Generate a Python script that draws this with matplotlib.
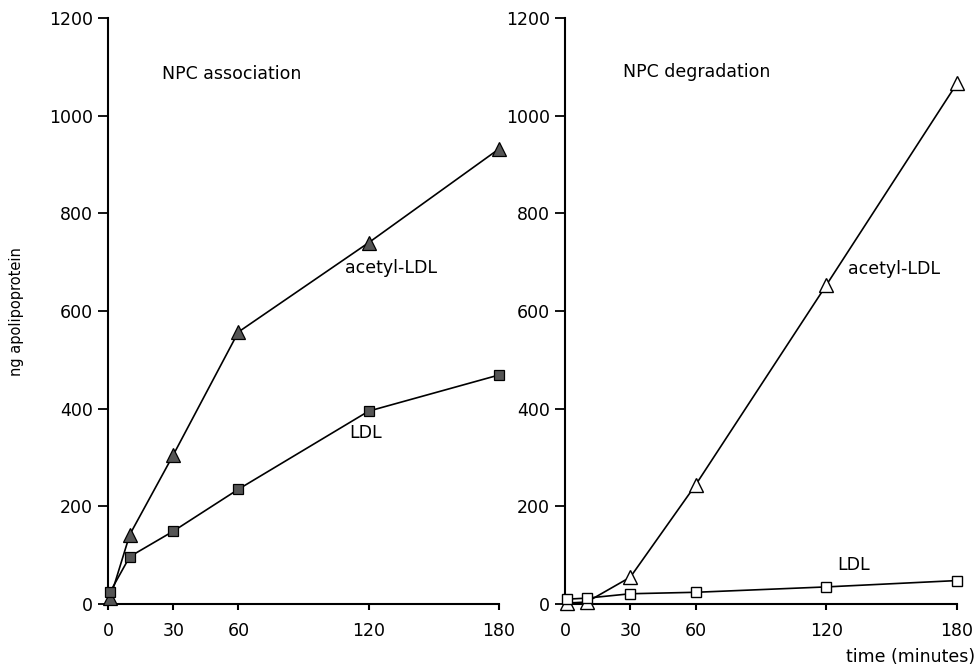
import matplotlib.pyplot as plt
import numpy as np

plt.rcParams['font.family'] = ['DejaVu Sans']

# minutes
time = [1, 10, 30, 60, 120, 180]

# NPC association (filled symbols)
assoc_acetyl = [12, 142, 305, 557, 740, 932]
assoc_ldl = [25, 97, 149, 235, 395, 469]

# NPC degradation (open symbols)
degr_acetyl = [2, 4, 55, 244, 653, 1066]
degr_ldl = [10, 12, 21, 24, 35, 48]

xticks = [0, 30, 60, 120, 180]
yticks = [0, 200, 400, 600, 800, 1000, 1200]

fig = plt.figure(figsize=(9.76, 6.70), dpi=100)
ax1 = fig.add_axes([0.1107, 0.0985, 0.4006, 0.8746])
ax2 = fig.add_axes([0.5789, 0.0985, 0.4016, 0.8746])

fs = 12.5

def style(ax):
	ax.set_xlim(0, 180)
	ax.set_ylim(0, 1200)
	ax.spines['top'].set_visible(False)
	ax.spines['right'].set_visible(False)
	ax.spines['left'].set_linewidth(1.5)
	ax.spines['bottom'].set_linewidth(1.5)
	ax.set_xticks(xticks)
	ax.set_yticks(yticks)
	ax.tick_params(axis='y', direction='out', length=7, width=1.3, pad=4, labelsize=fs)
	ax.tick_params(axis='x', direction='out', length=4, width=1.5, pad=9, labelsize=fs)

# left panel
ax1.plot(time, assoc_acetyl, color='black', lw=1.2, marker='^', ms=9.5,
	mfc='#555555', mec='black', mew=0.9, clip_on=False, zorder=3)
ax1.plot(time, assoc_ldl, color='black', lw=1.2, marker='s', ms=7.5,
	mfc='#555555', mec='black', mew=0.9, clip_on=False, zorder=3)
style(ax1)
ax1.text(25, 1085, 'NPC association', fontsize=fs, va='center')
ax1.text(109, 689, 'acetyl-LDL', fontsize=fs, va='center')
ax1.text(111, 350, 'LDL', fontsize=fs, va='center')

# right panel
ax2.plot(time, degr_acetyl, color='black', lw=1.2, marker='^', ms=9.5,
	mfc='white', mec='black', mew=1.0, clip_on=False, zorder=3)
ax2.plot(time, degr_ldl, color='black', lw=1.2, marker='s', ms=7.5,
	mfc='white', mec='black', mew=1.0, clip_on=False, zorder=3)
style(ax2)
ax2.text(26.5, 1090, 'NPC degradation', fontsize=fs, va='center')
ax2.text(130, 686, 'acetyl-LDL', fontsize=fs, va='center')
ax2.text(125, 80, 'LDL', fontsize=fs, va='center')

fig.text(0.017, 0.535, 'ng apolipoprotein', rotation=90, fontsize=10.5, va='center', ha='center')
fig.text(0.999, 0.019, 'time (minutes)', fontsize=fs, ha='right', va='center')

fig.savefig('out.png', dpi=100)
